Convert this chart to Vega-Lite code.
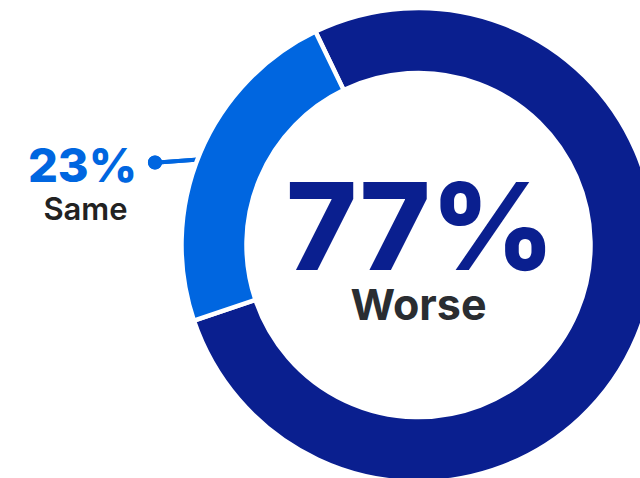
{
  "$schema": "https://vega.github.io/schema/vega-lite/v6.json",
  "width": 837,
  "height": 490,
  "autosize": {"type": "none"},
  "padding": 0,
  "background": "white",
  "view": {"stroke": null},
  "data": {"values": [
    {"category": "Worse", "value": 77, "pct": "77%"},
    {"category": "Same", "value": 23, "pct": "23%"}
  ]},
  "layer": [
    {
      "mark": {"type": "rule", "stroke": "#0066e0", "strokeWidth": 4},
      "encoding": {
        "x": {"value": 158},
        "y": {"value": 162.5},
        "x2": {"value": 212},
        "y2": {"value": 158.5}
      }
    },
    {
      "mark": {"type": "point", "filled": true, "size": 200, "color": "#0066e0", "opacity": 1},
      "encoding": {
        "x": {"value": 155},
        "y": {"value": 162.5}
      }
    },
    {
      "mark": {"type": "arc", "outerRadius": 237, "innerRadius": 172, "thetaOffset": -0.45, "stroke": "white", "strokeWidth": 4.5},
      "encoding": {
        "theta": {"field": "value", "type": "quantitative", "stack": true},
        "order": {"field": "category", "sort": "descending"},
        "color": {"field": "category", "type": "nominal", "scale": {"domain": ["Worse", "Same"], "range": ["#0a1f8f", "#0066e0"]}, "legend": null}
      }
    },
    {
      "transform": [{"filter": "datum.category === 'Worse'"}],
      "mark": {"type": "text", "font": "Inter", "fontWeight": 800, "fontSize": 121, "color": "#0a1f8f", "baseline": "alphabetic", "align": "center", "dx": 2, "dy": 25},
      "encoding": {"text": {"field": "pct"}}
    },
    {
      "transform": [{"filter": "datum.category === 'Worse'"}],
      "mark": {"type": "text", "font": "Inter", "fontWeight": "bold", "fontSize": 43, "color": "#2a2d31", "baseline": "alphabetic", "align": "center", "dy": 75},
      "encoding": {"text": {"field": "category"}}
    },
    {
      "transform": [{"filter": "datum.category === 'Same'"}],
      "mark": {"type": "text", "font": "Inter", "fontWeight": 800, "fontSize": 47, "color": "#0066e0", "baseline": "alphabetic", "align": "center", "dx": -336, "dy": -63},
      "encoding": {"text": {"field": "pct"}}
    },
    {
      "transform": [{"filter": "datum.category === 'Same'"}],
      "mark": {"type": "text", "font": "Inter", "fontWeight": 600, "fontSize": 31, "color": "#222222", "baseline": "alphabetic", "align": "center", "dx": -333, "dy": -25},
      "encoding": {"text": {"field": "category"}}
    }
  ]
}
